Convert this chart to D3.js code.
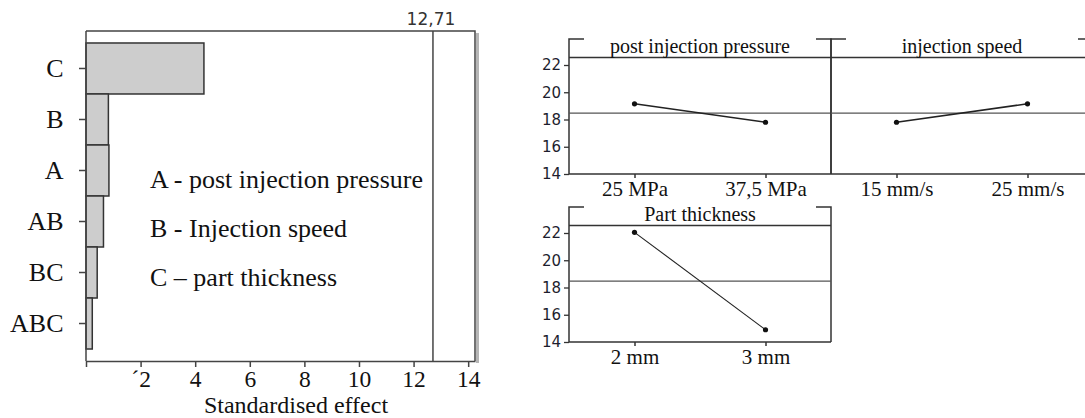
<!DOCTYPE html>
<html>
<head>
<meta charset="utf-8">
<script src="https://cdn.jsdelivr.net/npm/d3@7"></script>
<style>
  html, body { margin: 0; padding: 0; background: #fff; }
  svg { display: block; }
</style>
</head>
<body>
<svg id="chart" width="1085" height="418"></svg>
<script>
// ---------- data: Pareto chart of standardised effects ----------
const effectTerms = ["C", "B", "A", "AB", "BC", "ABC"];
const effectValues = [4.32, 0.82, 0.84, 0.64, 0.41, 0.23];
const criticalValue = 12.71;
const criticalLabel = "12,71";
const effectTicks = [0, 2, 4, 6, 8, 10, 12, 14];
const effectTickLabels = ["", "´2", "4", "6", "8", "10", "12", "14"];
const effectAxisTitle = "Standardised effect";
const legendLines = ["A - post injection pressure", "B - Injection speed", "C – part thickness"];

// ---------- data: main effects plot ----------
const factorNames = ["post injection pressure", "injection speed", "Part thickness"];
const factorLevels = [["25 MPa", "37,5 MPa"], ["15 mm/s", "25 mm/s"], ["2 mm", "3 mm"]];
const factorMeans = [[19.15, 17.8], [17.8, 19.15], [22.05, 14.9]];
const grandMean = 18.475;
const meanTicks = [14, 16, 18, 20, 22];

const svg = d3.select("#chart");
const serif = "'Liberation Serif', 'Times New Roman', serif";
const sans = "'DejaVu Sans', Verdana, sans-serif";

// =============== LEFT: Pareto chart ===============
(function () {
  const L = 86, R = 475, T = 31, B = 361;
  const x = d3.scaleLinear().domain([0, 14.25]).range([L, R]);
  const y = d3.scaleBand().domain(effectTerms).range([T, B]).paddingInner(0).paddingOuter(0.235);
  const g = svg.append("g");

  // shadow on right edge
  g.append("rect").attr("x", R + 1).attr("y", T + 2).attr("width", 3).attr("height", B - T)
    .attr("fill", "#b5b5b5");

  // bars
  g.selectAll("rect.bar").data(effectTerms).enter().append("rect")
    .attr("class", "bar")
    .attr("x", x(0))
    .attr("y", d => y(d))
    .attr("width", (d, i) => x(effectValues[i]) - x(0))
    .attr("height", y.bandwidth())
    .attr("fill", "#cdcdcd")
    .attr("stroke", "#333")
    .attr("stroke-width", 1.5);

  // frame top / right
  g.append("path")
    .attr("d", `M${L},${T}H${R}V${B}`)
    .attr("fill", "none").attr("stroke", "#444").attr("stroke-width", 1.5);

  // critical line
  g.append("line")
    .attr("x1", x(criticalValue)).attr("x2", x(criticalValue))
    .attr("y1", T).attr("y2", B)
    .attr("stroke", "#444").attr("stroke-width", 1.5);
  g.append("text")
    .attr("x", x(criticalValue) - 2).attr("y", 25)
    .attr("text-anchor", "middle")
    .attr("font-family", sans).attr("font-size", 17).attr("fill", "#333")
    .text(criticalLabel);

  // axes
  const xAxis = d3.axisBottom(x).tickValues(effectTicks)
    .tickFormat((d, i) => effectTickLabels[i]).tickSize(6).tickSizeOuter(0).tickPadding(3);
  const gx = g.append("g").attr("transform", `translate(0,${B})`).call(xAxis);
  gx.selectAll("text").attr("font-family", serif).attr("font-size", 23.5).attr("fill", "#111")
    .attr("dy", null).attr("y", 25.5);
  gx.selectAll("line,path").attr("stroke", "#444").attr("stroke-width", 1.5);

  const yAxis = d3.axisLeft(y).tickSize(7).tickSizeOuter(0).tickPadding(15.5);
  const gy = g.append("g").attr("transform", `translate(${L},0)`).call(yAxis);
  gy.select(".domain").attr("d", `M0,${T}V${B}`);
  gy.selectAll("text").attr("font-family", serif).attr("font-size", 26).attr("fill", "#111");
  gy.selectAll("line,path").attr("stroke", "#444").attr("stroke-width", 1.5);

  // axis title
  g.append("text").attr("x", 296).attr("y", 412.5).attr("text-anchor", "middle")
    .attr("font-family", serif).attr("font-size", 24).attr("fill", "#111")
    .text(effectAxisTitle);

  // legend
  g.selectAll("text.leg").data(legendLines).enter().append("text")
    .attr("class", "leg")
    .attr("x", 150).attr("y", (d, i) => 188 + i * 49)
    .attr("font-family", serif).attr("font-size", 26).attr("fill", "#111")
    .text(d => d);
})();

// =============== RIGHT: main effects plot ===============
(function () {
  const panelW = 262;
  const plotH = 116.5, headH = 18.5;
  const panels = [
    { col: 0, axisY: 174, showY: true },
    { col: 1, axisY: 174, showY: false },
    { col: 0, axisY: 342, showY: true }
  ];
  const x0base = 569;

  panels.forEach((p, i) => {
    const x0 = x0base + p.col * panelW, x1 = x0 + panelW;
    const yBottom = p.axisY, yHead = yBottom - plotH, yTop = yHead - headH;
    const x = d3.scalePoint().domain(factorLevels[i]).range([x0, x1]).padding(0.5);
    const y = d3.scaleLinear().domain([14, 14 + plotH / 13.625]).range([yBottom, yHead]);
    const g = svg.append("g");
    const stroke = "#333";

    // frame with corner brackets
    g.append("path")
      .attr("d", `M${x0 + 15},${yTop}H${x0}V${yBottom}M${x1 - 15},${yTop}H${x1}V${yBottom}`)
      .attr("fill", "none").attr("stroke", stroke).attr("stroke-width", 1.5);
    // header line
    g.append("line").attr("x1", x0).attr("x2", x1).attr("y1", yHead).attr("y2", yHead)
      .attr("stroke", stroke).attr("stroke-width", 1.5);
    // header text
    g.append("text").attr("x", (x0 + x1) / 2).attr("y", yHead - 4.5)
      .attr("text-anchor", "middle").attr("font-family", serif).attr("font-size", 20)
      .attr("fill", "#111").text(factorNames[i]);
    // grand mean line
    g.append("line").attr("x1", x0).attr("x2", x1)
      .attr("y1", y(grandMean)).attr("y2", y(grandMean))
      .attr("stroke", "#555").attr("stroke-width", 1.3);

    // x axis
    const xAxis = d3.axisBottom(x).tickSize(4).tickSizeOuter(0).tickPadding(3);
    const gx = g.append("g").attr("transform", `translate(0,${yBottom})`).call(xAxis);
    gx.select(".domain").attr("d", `M${x0},0H${x1}`);
    gx.selectAll("text").attr("font-family", serif).attr("font-size", 21).attr("fill", "#111")
      .attr("dy", null).attr("y", 22);
    gx.selectAll("line,path").attr("stroke", stroke).attr("stroke-width", 1.5);

    // y axis
    if (p.showY) {
      const yAxis = d3.axisLeft(y).tickValues(meanTicks).tickSize(5).tickSizeOuter(0).tickPadding(3);
      const gy = g.append("g").attr("transform", `translate(${x0},0)`).call(yAxis);
      gy.select(".domain").remove();
      gy.selectAll("text").attr("font-family", sans).attr("font-size", 15).attr("fill", "#1e1e2e");
      gy.selectAll("line").attr("stroke", stroke).attr("stroke-width", 1.3);
    }

    // line + points
    const pts = factorLevels[i].map((lv, j) => ({ lv, v: factorMeans[i][j] }));
    g.append("path").datum(pts)
      .attr("d", d3.line().x(d => x(d.lv)).y(d => y(d.v)))
      .attr("fill", "none").attr("stroke", "#222").attr("stroke-width", i === 2 ? 1.1 : 1.6);
    g.selectAll("circle").data(pts).enter().append("circle")
      .attr("cx", d => x(d.lv)).attr("cy", d => y(d.v)).attr("r", 2.6).attr("fill", "#111");
  });
})();
</script>
</body>
</html>
